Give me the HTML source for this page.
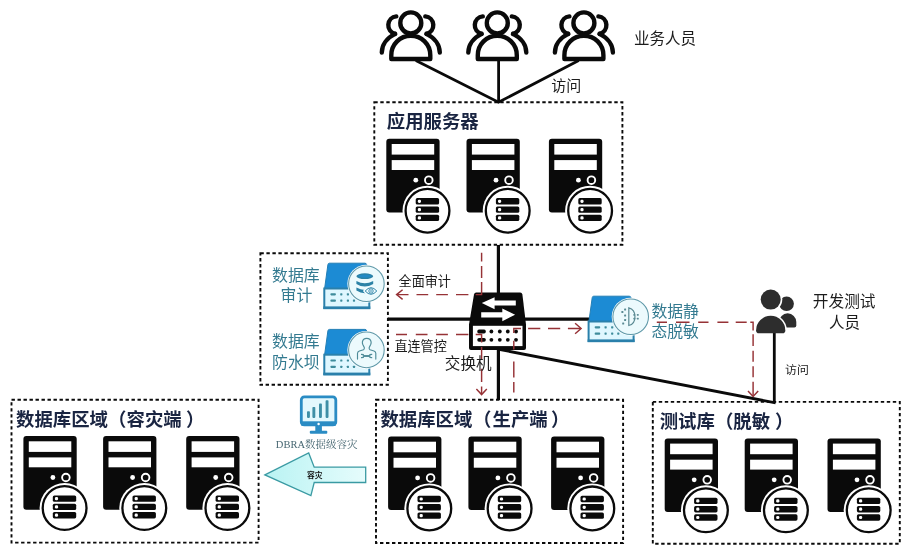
<!DOCTYPE html>
<html><head><meta charset="utf-8"><title>diagram</title>
<style>html,body{margin:0;padding:0;background:#fff;font-family:"Liberation Sans",sans-serif}svg{display:block;filter:blur(0.4px)}</style>
</head><body>
<svg width="906" height="547" viewBox="0 0 906 547"><rect width="906" height="547" fill="#fff"/>
<g stroke="#0a0a0a" stroke-width="2.8" fill="none">
<path d="M415.8 60.6 L498.5 102.3 L578.7 60.6"/>
<path d="M498.6 61 V102.4"/>
<path d="M498.4 245 V400" stroke-width="3.2"/>
<path d="M388 319.1 H590" stroke-width="3.2"/>
<path d="M499 349.4 L775.6 402.9"/>
<path d="M774.3 331 V402.3"/>
</g>
<rect x="374.3" y="102.2" width="248.09999999999997" height="142.60000000000002" fill="none" stroke="#0a0a0a" stroke-width="1.9" stroke-dasharray="3.4 2.6"/>
<rect x="260.4" y="253.2" width="127.5" height="131.60000000000002" fill="none" stroke="#0a0a0a" stroke-width="1.9" stroke-dasharray="3.4 2.6"/>
<rect x="11.5" y="399.8" width="247.10000000000002" height="142.8" fill="none" stroke="#0a0a0a" stroke-width="1.9" stroke-dasharray="3.4 2.6"/>
<rect x="376" y="399.8" width="247.10000000000002" height="143.2" fill="none" stroke="#0a0a0a" stroke-width="1.9" stroke-dasharray="3.4 2.6"/>
<rect x="652.8" y="401.9" width="247.0" height="141.80000000000007" fill="none" stroke="#0a0a0a" stroke-width="1.9" stroke-dasharray="3.4 2.6"/>
<text x="386.8" y="127.5" font-size="18.4" font-weight="bold" fill="#1a2542" font-family="&quot;Liberation Sans&quot;, &quot;Noto Sans CJK SC&quot;, sans-serif">应用服务器</text>
<text y="426" font-size="18.4" font-weight="bold" fill="#1a2542" font-family="&quot;Liberation Sans&quot;, &quot;Noto Sans CJK SC&quot;, sans-serif"><tspan x="16">数据库区域</tspan><tspan x="108">（</tspan><tspan x="126.5">容灾端</tspan><tspan x="186">）</tspan></text>
<text y="426" font-size="18.4" font-weight="bold" fill="#1a2542" font-family="&quot;Liberation Sans&quot;, &quot;Noto Sans CJK SC&quot;, sans-serif"><tspan x="380.4">数据库区域</tspan><tspan x="472.9">（</tspan><tspan x="492.5">生产端</tspan><tspan x="551">）</tspan></text>
<text y="428" font-size="18.4" font-weight="bold" fill="#1a2542" font-family="&quot;Liberation Sans&quot;, &quot;Noto Sans CJK SC&quot;, sans-serif"><tspan x="659.7">测试库</tspan><tspan x="714.9">（</tspan><tspan x="733.3">脱敏</tspan><tspan x="775">）</tspan></text>
<g transform="translate(386.3 138.8)"><rect x="0" y="0" width="53.3" height="73.6" rx="3" fill="#0a0a0a"/><rect x="5.4" y="5.2" width="42.5" height="10.6" fill="#fff"/><rect x="5.4" y="21.3" width="42.5" height="9.9" fill="#fff"/><circle cx="29.5" cy="41.4" r="2.4" fill="#fff"/><circle cx="42.5" cy="41.4" r="3.8" fill="none" stroke="#fff" stroke-width="1.9"/><circle cx="41.2" cy="71.9" r="25" fill="#fff"/><circle cx="41.2" cy="71.9" r="21.9" fill="#fff" stroke="#0a0a0a" stroke-width="2.3"/><rect x="29.400000000000002" y="59.30" width="23.4" height="6.4" rx="1.6" fill="#0a0a0a"/><rect x="31.50" y="60.90" width="3.2" height="3.2" rx="1.3" fill="#fff"/><rect x="29.400000000000002" y="67.60" width="23.4" height="6.4" rx="1.6" fill="#0a0a0a"/><rect x="31.50" y="69.20" width="3.2" height="3.2" rx="1.3" fill="#fff"/><rect x="29.400000000000002" y="75.90" width="23.4" height="6.4" rx="1.6" fill="#0a0a0a"/><rect x="31.50" y="77.50" width="3.2" height="3.2" rx="1.3" fill="#fff"/></g>
<g transform="translate(466.5 138.8)"><rect x="0" y="0" width="53.3" height="73.6" rx="3" fill="#0a0a0a"/><rect x="5.4" y="5.2" width="42.5" height="10.6" fill="#fff"/><rect x="5.4" y="21.3" width="42.5" height="9.9" fill="#fff"/><circle cx="29.5" cy="41.4" r="2.4" fill="#fff"/><circle cx="42.5" cy="41.4" r="3.8" fill="none" stroke="#fff" stroke-width="1.9"/><circle cx="41.2" cy="71.9" r="25" fill="#fff"/><circle cx="41.2" cy="71.9" r="21.9" fill="#fff" stroke="#0a0a0a" stroke-width="2.3"/><rect x="29.400000000000002" y="59.30" width="23.4" height="6.4" rx="1.6" fill="#0a0a0a"/><rect x="31.50" y="60.90" width="3.2" height="3.2" rx="1.3" fill="#fff"/><rect x="29.400000000000002" y="67.60" width="23.4" height="6.4" rx="1.6" fill="#0a0a0a"/><rect x="31.50" y="69.20" width="3.2" height="3.2" rx="1.3" fill="#fff"/><rect x="29.400000000000002" y="75.90" width="23.4" height="6.4" rx="1.6" fill="#0a0a0a"/><rect x="31.50" y="77.50" width="3.2" height="3.2" rx="1.3" fill="#fff"/></g>
<g transform="translate(548.9 138.8)"><rect x="0" y="0" width="53.3" height="73.6" rx="3" fill="#0a0a0a"/><rect x="5.4" y="5.2" width="42.5" height="10.6" fill="#fff"/><rect x="5.4" y="21.3" width="42.5" height="9.9" fill="#fff"/><circle cx="29.5" cy="41.4" r="2.4" fill="#fff"/><circle cx="42.5" cy="41.4" r="3.8" fill="none" stroke="#fff" stroke-width="1.9"/><circle cx="41.2" cy="71.9" r="25" fill="#fff"/><circle cx="41.2" cy="71.9" r="21.9" fill="#fff" stroke="#0a0a0a" stroke-width="2.3"/><rect x="29.400000000000002" y="59.30" width="23.4" height="6.4" rx="1.6" fill="#0a0a0a"/><rect x="31.50" y="60.90" width="3.2" height="3.2" rx="1.3" fill="#fff"/><rect x="29.400000000000002" y="67.60" width="23.4" height="6.4" rx="1.6" fill="#0a0a0a"/><rect x="31.50" y="69.20" width="3.2" height="3.2" rx="1.3" fill="#fff"/><rect x="29.400000000000002" y="75.90" width="23.4" height="6.4" rx="1.6" fill="#0a0a0a"/><rect x="31.50" y="77.50" width="3.2" height="3.2" rx="1.3" fill="#fff"/></g>
<g transform="translate(23.4 436.1)"><rect x="0" y="0" width="53.3" height="73.6" rx="3" fill="#0a0a0a"/><rect x="5.4" y="5.2" width="42.5" height="10.6" fill="#fff"/><rect x="5.4" y="21.3" width="42.5" height="9.9" fill="#fff"/><circle cx="29.5" cy="41.4" r="2.4" fill="#fff"/><circle cx="42.5" cy="41.4" r="3.8" fill="none" stroke="#fff" stroke-width="1.9"/><circle cx="41.2" cy="71.9" r="25" fill="#fff"/><circle cx="41.2" cy="71.9" r="21.9" fill="#fff" stroke="#0a0a0a" stroke-width="2.3"/><rect x="29.400000000000002" y="59.30" width="23.4" height="6.4" rx="1.6" fill="#0a0a0a"/><rect x="31.50" y="60.90" width="3.2" height="3.2" rx="1.3" fill="#fff"/><rect x="29.400000000000002" y="67.60" width="23.4" height="6.4" rx="1.6" fill="#0a0a0a"/><rect x="31.50" y="69.20" width="3.2" height="3.2" rx="1.3" fill="#fff"/><rect x="29.400000000000002" y="75.90" width="23.4" height="6.4" rx="1.6" fill="#0a0a0a"/><rect x="31.50" y="77.50" width="3.2" height="3.2" rx="1.3" fill="#fff"/></g>
<g transform="translate(103.1 436.1)"><rect x="0" y="0" width="53.3" height="73.6" rx="3" fill="#0a0a0a"/><rect x="5.4" y="5.2" width="42.5" height="10.6" fill="#fff"/><rect x="5.4" y="21.3" width="42.5" height="9.9" fill="#fff"/><circle cx="29.5" cy="41.4" r="2.4" fill="#fff"/><circle cx="42.5" cy="41.4" r="3.8" fill="none" stroke="#fff" stroke-width="1.9"/><circle cx="41.2" cy="71.9" r="25" fill="#fff"/><circle cx="41.2" cy="71.9" r="21.9" fill="#fff" stroke="#0a0a0a" stroke-width="2.3"/><rect x="29.400000000000002" y="59.30" width="23.4" height="6.4" rx="1.6" fill="#0a0a0a"/><rect x="31.50" y="60.90" width="3.2" height="3.2" rx="1.3" fill="#fff"/><rect x="29.400000000000002" y="67.60" width="23.4" height="6.4" rx="1.6" fill="#0a0a0a"/><rect x="31.50" y="69.20" width="3.2" height="3.2" rx="1.3" fill="#fff"/><rect x="29.400000000000002" y="75.90" width="23.4" height="6.4" rx="1.6" fill="#0a0a0a"/><rect x="31.50" y="77.50" width="3.2" height="3.2" rx="1.3" fill="#fff"/></g>
<g transform="translate(186.2 436.1)"><rect x="0" y="0" width="53.3" height="73.6" rx="3" fill="#0a0a0a"/><rect x="5.4" y="5.2" width="42.5" height="10.6" fill="#fff"/><rect x="5.4" y="21.3" width="42.5" height="9.9" fill="#fff"/><circle cx="29.5" cy="41.4" r="2.4" fill="#fff"/><circle cx="42.5" cy="41.4" r="3.8" fill="none" stroke="#fff" stroke-width="1.9"/><circle cx="41.2" cy="71.9" r="25" fill="#fff"/><circle cx="41.2" cy="71.9" r="21.9" fill="#fff" stroke="#0a0a0a" stroke-width="2.3"/><rect x="29.400000000000002" y="59.30" width="23.4" height="6.4" rx="1.6" fill="#0a0a0a"/><rect x="31.50" y="60.90" width="3.2" height="3.2" rx="1.3" fill="#fff"/><rect x="29.400000000000002" y="67.60" width="23.4" height="6.4" rx="1.6" fill="#0a0a0a"/><rect x="31.50" y="69.20" width="3.2" height="3.2" rx="1.3" fill="#fff"/><rect x="29.400000000000002" y="75.90" width="23.4" height="6.4" rx="1.6" fill="#0a0a0a"/><rect x="31.50" y="77.50" width="3.2" height="3.2" rx="1.3" fill="#fff"/></g>
<g transform="translate(388.1 436.5)"><rect x="0" y="0" width="53.3" height="73.6" rx="3" fill="#0a0a0a"/><rect x="5.4" y="5.2" width="42.5" height="10.6" fill="#fff"/><rect x="5.4" y="21.3" width="42.5" height="9.9" fill="#fff"/><circle cx="29.5" cy="41.4" r="2.4" fill="#fff"/><circle cx="42.5" cy="41.4" r="3.8" fill="none" stroke="#fff" stroke-width="1.9"/><circle cx="41.2" cy="71.9" r="25" fill="#fff"/><circle cx="41.2" cy="71.9" r="21.9" fill="#fff" stroke="#0a0a0a" stroke-width="2.3"/><rect x="29.400000000000002" y="59.30" width="23.4" height="6.4" rx="1.6" fill="#0a0a0a"/><rect x="31.50" y="60.90" width="3.2" height="3.2" rx="1.3" fill="#fff"/><rect x="29.400000000000002" y="67.60" width="23.4" height="6.4" rx="1.6" fill="#0a0a0a"/><rect x="31.50" y="69.20" width="3.2" height="3.2" rx="1.3" fill="#fff"/><rect x="29.400000000000002" y="75.90" width="23.4" height="6.4" rx="1.6" fill="#0a0a0a"/><rect x="31.50" y="77.50" width="3.2" height="3.2" rx="1.3" fill="#fff"/></g>
<g transform="translate(468.4 436.5)"><rect x="0" y="0" width="53.3" height="73.6" rx="3" fill="#0a0a0a"/><rect x="5.4" y="5.2" width="42.5" height="10.6" fill="#fff"/><rect x="5.4" y="21.3" width="42.5" height="9.9" fill="#fff"/><circle cx="29.5" cy="41.4" r="2.4" fill="#fff"/><circle cx="42.5" cy="41.4" r="3.8" fill="none" stroke="#fff" stroke-width="1.9"/><circle cx="41.2" cy="71.9" r="25" fill="#fff"/><circle cx="41.2" cy="71.9" r="21.9" fill="#fff" stroke="#0a0a0a" stroke-width="2.3"/><rect x="29.400000000000002" y="59.30" width="23.4" height="6.4" rx="1.6" fill="#0a0a0a"/><rect x="31.50" y="60.90" width="3.2" height="3.2" rx="1.3" fill="#fff"/><rect x="29.400000000000002" y="67.60" width="23.4" height="6.4" rx="1.6" fill="#0a0a0a"/><rect x="31.50" y="69.20" width="3.2" height="3.2" rx="1.3" fill="#fff"/><rect x="29.400000000000002" y="75.90" width="23.4" height="6.4" rx="1.6" fill="#0a0a0a"/><rect x="31.50" y="77.50" width="3.2" height="3.2" rx="1.3" fill="#fff"/></g>
<g transform="translate(551.1 436.5)"><rect x="0" y="0" width="53.3" height="73.6" rx="3" fill="#0a0a0a"/><rect x="5.4" y="5.2" width="42.5" height="10.6" fill="#fff"/><rect x="5.4" y="21.3" width="42.5" height="9.9" fill="#fff"/><circle cx="29.5" cy="41.4" r="2.4" fill="#fff"/><circle cx="42.5" cy="41.4" r="3.8" fill="none" stroke="#fff" stroke-width="1.9"/><circle cx="41.2" cy="71.9" r="25" fill="#fff"/><circle cx="41.2" cy="71.9" r="21.9" fill="#fff" stroke="#0a0a0a" stroke-width="2.3"/><rect x="29.400000000000002" y="59.30" width="23.4" height="6.4" rx="1.6" fill="#0a0a0a"/><rect x="31.50" y="60.90" width="3.2" height="3.2" rx="1.3" fill="#fff"/><rect x="29.400000000000002" y="67.60" width="23.4" height="6.4" rx="1.6" fill="#0a0a0a"/><rect x="31.50" y="69.20" width="3.2" height="3.2" rx="1.3" fill="#fff"/><rect x="29.400000000000002" y="75.90" width="23.4" height="6.4" rx="1.6" fill="#0a0a0a"/><rect x="31.50" y="77.50" width="3.2" height="3.2" rx="1.3" fill="#fff"/></g>
<g transform="translate(664.7 438.4)"><rect x="0" y="0" width="53.3" height="73.6" rx="3" fill="#0a0a0a"/><rect x="5.4" y="5.2" width="42.5" height="10.6" fill="#fff"/><rect x="5.4" y="21.3" width="42.5" height="9.9" fill="#fff"/><circle cx="29.5" cy="41.4" r="2.4" fill="#fff"/><circle cx="42.5" cy="41.4" r="3.8" fill="none" stroke="#fff" stroke-width="1.9"/><circle cx="41.2" cy="71.9" r="25" fill="#fff"/><circle cx="41.2" cy="71.9" r="21.9" fill="#fff" stroke="#0a0a0a" stroke-width="2.3"/><rect x="29.400000000000002" y="59.30" width="23.4" height="6.4" rx="1.6" fill="#0a0a0a"/><rect x="31.50" y="60.90" width="3.2" height="3.2" rx="1.3" fill="#fff"/><rect x="29.400000000000002" y="67.60" width="23.4" height="6.4" rx="1.6" fill="#0a0a0a"/><rect x="31.50" y="69.20" width="3.2" height="3.2" rx="1.3" fill="#fff"/><rect x="29.400000000000002" y="75.90" width="23.4" height="6.4" rx="1.6" fill="#0a0a0a"/><rect x="31.50" y="77.50" width="3.2" height="3.2" rx="1.3" fill="#fff"/></g>
<g transform="translate(744.7 438.4)"><rect x="0" y="0" width="53.3" height="73.6" rx="3" fill="#0a0a0a"/><rect x="5.4" y="5.2" width="42.5" height="10.6" fill="#fff"/><rect x="5.4" y="21.3" width="42.5" height="9.9" fill="#fff"/><circle cx="29.5" cy="41.4" r="2.4" fill="#fff"/><circle cx="42.5" cy="41.4" r="3.8" fill="none" stroke="#fff" stroke-width="1.9"/><circle cx="41.2" cy="71.9" r="25" fill="#fff"/><circle cx="41.2" cy="71.9" r="21.9" fill="#fff" stroke="#0a0a0a" stroke-width="2.3"/><rect x="29.400000000000002" y="59.30" width="23.4" height="6.4" rx="1.6" fill="#0a0a0a"/><rect x="31.50" y="60.90" width="3.2" height="3.2" rx="1.3" fill="#fff"/><rect x="29.400000000000002" y="67.60" width="23.4" height="6.4" rx="1.6" fill="#0a0a0a"/><rect x="31.50" y="69.20" width="3.2" height="3.2" rx="1.3" fill="#fff"/><rect x="29.400000000000002" y="75.90" width="23.4" height="6.4" rx="1.6" fill="#0a0a0a"/><rect x="31.50" y="77.50" width="3.2" height="3.2" rx="1.3" fill="#fff"/></g>
<g transform="translate(827.5 438.4)"><rect x="0" y="0" width="53.3" height="73.6" rx="3" fill="#0a0a0a"/><rect x="5.4" y="5.2" width="42.5" height="10.6" fill="#fff"/><rect x="5.4" y="21.3" width="42.5" height="9.9" fill="#fff"/><circle cx="29.5" cy="41.4" r="2.4" fill="#fff"/><circle cx="42.5" cy="41.4" r="3.8" fill="none" stroke="#fff" stroke-width="1.9"/><circle cx="41.2" cy="71.9" r="25" fill="#fff"/><circle cx="41.2" cy="71.9" r="21.9" fill="#fff" stroke="#0a0a0a" stroke-width="2.3"/><rect x="29.400000000000002" y="59.30" width="23.4" height="6.4" rx="1.6" fill="#0a0a0a"/><rect x="31.50" y="60.90" width="3.2" height="3.2" rx="1.3" fill="#fff"/><rect x="29.400000000000002" y="67.60" width="23.4" height="6.4" rx="1.6" fill="#0a0a0a"/><rect x="31.50" y="69.20" width="3.2" height="3.2" rx="1.3" fill="#fff"/><rect x="29.400000000000002" y="75.90" width="23.4" height="6.4" rx="1.6" fill="#0a0a0a"/><rect x="31.50" y="77.50" width="3.2" height="3.2" rx="1.3" fill="#fff"/></g>
<g transform="translate(410.8 0)" fill="none" stroke="#0a0a0a" stroke-width="4.4" stroke-linecap="round" stroke-linejoin="round"><circle cx="0" cy="22.9" r="10.5"/><path d="M-19.5 59 V55.2 A19.5 19.5 0 0 1 19.5 55.2 V59 Z"/><path d="M-14.5 16.4 A8.9 8.9 0 0 0 -15.7 33.9"/><path d="M14.5 16.4 A8.9 8.9 0 0 1 15.7 33.9"/><path d="M-15.7 33.9 C-24 38 -29 45 -29 52.5"/><path d="M15.7 33.9 C24 38 29 45 29 52.5"/></g>
<g transform="translate(497.3 0)" fill="none" stroke="#0a0a0a" stroke-width="4.4" stroke-linecap="round" stroke-linejoin="round"><circle cx="0" cy="22.9" r="10.5"/><path d="M-19.5 59 V55.2 A19.5 19.5 0 0 1 19.5 55.2 V59 Z"/><path d="M-14.5 16.4 A8.9 8.9 0 0 0 -15.7 33.9"/><path d="M14.5 16.4 A8.9 8.9 0 0 1 15.7 33.9"/><path d="M-15.7 33.9 C-24 38 -29 45 -29 52.5"/><path d="M15.7 33.9 C24 38 29 45 29 52.5"/></g>
<g transform="translate(583.9 0)" fill="none" stroke="#0a0a0a" stroke-width="4.4" stroke-linecap="round" stroke-linejoin="round"><circle cx="0" cy="22.9" r="10.5"/><path d="M-19.5 59 V55.2 A19.5 19.5 0 0 1 19.5 55.2 V59 Z"/><path d="M-14.5 16.4 A8.9 8.9 0 0 0 -15.7 33.9"/><path d="M14.5 16.4 A8.9 8.9 0 0 1 15.7 33.9"/><path d="M-15.7 33.9 C-24 38 -29 45 -29 52.5"/><path d="M15.7 33.9 C24 38 29 45 29 52.5"/></g>
<text x="634" y="44.3" font-size="15.5" fill="#1c1c1c" font-family="&quot;Liberation Sans&quot;, &quot;Noto Sans CJK SC&quot;, sans-serif">业务人员</text>
<text x="551.2" y="90.6" font-size="15" fill="#1c1c1c" font-family="&quot;Liberation Sans&quot;, &quot;Noto Sans CJK SC&quot;, sans-serif">访问</text>
<g transform="translate(327.9 263.2)"><path d="M1.5 0 H37 Q38.5 0 38.8 1.5 L41.4 25.5 H-3.3 L0 1.5 Q0.2 0 1.5 0 Z" fill="#1c8bd4" stroke="#237fb6" stroke-width="1"/><rect x="-3.6" y="25.3" width="45" height="19.6" fill="#dff7ff" stroke="#2a80ab" stroke-width="2"/><rect x="-4.6" y="43.2" width="47" height="2.7" fill="#2a80ab"/><rect x="2.5" y="30.0" width="5.5" height="2.2" rx="0.8" fill="#3f8c9c"/><rect x="12.3" y="30.0" width="2.2" height="2.2" rx="0.6" fill="#3f8c9c"/><rect x="18.9" y="30.0" width="2.2" height="2.2" rx="0.6" fill="#3f8c9c"/><rect x="25.0" y="30.0" width="2.2" height="2.2" rx="0.6" fill="#3f8c9c"/><rect x="2.5" y="36.3" width="5.5" height="2.2" rx="0.8" fill="#3f8c9c"/><rect x="12.3" y="36.3" width="2.2" height="2.2" rx="0.6" fill="#3f8c9c"/><rect x="18.9" y="36.3" width="2.2" height="2.2" rx="0.6" fill="#3f8c9c"/><rect x="25.0" y="36.3" width="2.2" height="2.2" rx="0.6" fill="#3f8c9c"/><circle cx="38.5" cy="20.5" r="19" fill="#fff"/><circle cx="38.5" cy="20.5" r="17.8" fill="#ecfafd" stroke="#5e98a8" stroke-width="1.05"/></g>
<g transform="translate(327.9 329.4)"><path d="M1.5 0 H37 Q38.5 0 38.8 1.5 L41.4 25.5 H-3.3 L0 1.5 Q0.2 0 1.5 0 Z" fill="#1c8bd4" stroke="#237fb6" stroke-width="1"/><rect x="-3.6" y="25.3" width="45" height="19.6" fill="#dff7ff" stroke="#2a80ab" stroke-width="2"/><rect x="-4.6" y="43.2" width="47" height="2.7" fill="#2a80ab"/><rect x="2.5" y="30.0" width="5.5" height="2.2" rx="0.8" fill="#3f8c9c"/><rect x="12.3" y="30.0" width="2.2" height="2.2" rx="0.6" fill="#3f8c9c"/><rect x="18.9" y="30.0" width="2.2" height="2.2" rx="0.6" fill="#3f8c9c"/><rect x="25.0" y="30.0" width="2.2" height="2.2" rx="0.6" fill="#3f8c9c"/><rect x="2.5" y="36.3" width="5.5" height="2.2" rx="0.8" fill="#3f8c9c"/><rect x="12.3" y="36.3" width="2.2" height="2.2" rx="0.6" fill="#3f8c9c"/><rect x="18.9" y="36.3" width="2.2" height="2.2" rx="0.6" fill="#3f8c9c"/><rect x="25.0" y="36.3" width="2.2" height="2.2" rx="0.6" fill="#3f8c9c"/><circle cx="38.5" cy="20.5" r="19" fill="#fff"/><circle cx="38.5" cy="20.5" r="17.8" fill="#ecfafd" stroke="#5e98a8" stroke-width="1.05"/></g>
<g transform="translate(592.2 296.2)"><path d="M1.5 0 H37 Q38.5 0 38.8 1.5 L41.4 25.5 H-3.3 L0 1.5 Q0.2 0 1.5 0 Z" fill="#1c8bd4" stroke="#237fb6" stroke-width="1"/><rect x="-3.6" y="25.3" width="45" height="19.6" fill="#dff7ff" stroke="#2a80ab" stroke-width="2"/><rect x="-4.6" y="43.2" width="47" height="2.7" fill="#2a80ab"/><rect x="2.5" y="30.0" width="5.5" height="2.2" rx="0.8" fill="#3f8c9c"/><rect x="12.3" y="30.0" width="2.2" height="2.2" rx="0.6" fill="#3f8c9c"/><rect x="18.9" y="30.0" width="2.2" height="2.2" rx="0.6" fill="#3f8c9c"/><rect x="25.0" y="30.0" width="2.2" height="2.2" rx="0.6" fill="#3f8c9c"/><rect x="2.5" y="36.3" width="5.5" height="2.2" rx="0.8" fill="#3f8c9c"/><rect x="12.3" y="36.3" width="2.2" height="2.2" rx="0.6" fill="#3f8c9c"/><rect x="18.9" y="36.3" width="2.2" height="2.2" rx="0.6" fill="#3f8c9c"/><rect x="25.0" y="36.3" width="2.2" height="2.2" rx="0.6" fill="#3f8c9c"/><circle cx="38.5" cy="20.5" r="19" fill="#fff"/><circle cx="38.5" cy="20.5" r="17.8" fill="#ecfafd" stroke="#5e98a8" stroke-width="1.05"/></g>
<g><ellipse cx="364.8" cy="276.2" rx="8.4" ry="2.9" fill="#2c82a6"/><ellipse cx="364.8" cy="276.1" rx="6.3" ry="1.7" fill="#2289c4"/><path d="M356.4 280.9 Q364.8 285.6 373.2 280.9 V283.9 Q364.8 289.2 356.4 283.9 Z" fill="#2c82a6"/><path d="M356.4 287.6 Q364.8 292.3 373.2 287.6 V290.6 Q364.8 295.9 356.4 290.6 Z" fill="#2c82a6"/><path d="M364.4 291 Q371 283 377.6 291 Q371 299 364.4 291 Z" fill="#f2fcfe" stroke="#f2fcfe" stroke-width="2.2"/><path d="M365.2 291 Q371 284.4 376.8 291 Q371 297.6 365.2 291 Z" fill="#f2fcfe" stroke="#2c82a6" stroke-width="1"/><circle cx="371" cy="291" r="2.2" fill="#e6f7fc" stroke="#2c82a6" stroke-width="0.9"/><circle cx="371" cy="291" r="0.8" fill="#2c82a6"/></g>
<g fill="none" stroke="#4f8c99" stroke-width="1.15" stroke-linecap="round" stroke-linejoin="round"><path d="M357.5 359.1 V353.2 Q357.6 351.6 359.4 351 L363.5 349.7 Q364.6 349 364.3 347.6 L362.8 344.5 Q362.2 343 362.4 341.8 Q363 338.4 366.7 338.4 Q370.5 338.4 371.1 341.8 Q371.3 343 370.7 344.5 L369.2 347.6 Q368.9 349 370 349.7 L374 351 Q375.7 351.6 375.8 353.2 V359.1"/></g><g fill="none" stroke="#4f8c99" stroke-linecap="butt"><path d="M363.3 356 H369.9" stroke-width="1.9"/><path d="M361 354.4 L363.3 354.6 V357.4 L361 357.6 M372.2 354.4 L369.9 354.6 V357.4 L372.2 357.6" stroke-width="1.1"/></g>
<g fill="#5a8a93"><path d="M628.8 307.8 V325.5 C637 323.5 637 309.8 628.8 307.8 Z" fill="none" stroke="#5a8a93" stroke-width="1.2"/><rect x="624.1" y="308.4" width="2" height="2" rx="0.5"/><rect x="621.4" y="311" width="2" height="2" rx="0.5"/><rect x="624.1" y="314.5" width="2" height="2" rx="0.5"/><rect x="624.1" y="319.1" width="2" height="2" rx="0.5"/><rect x="622.2" y="322.6" width="2" height="2" rx="0.5"/><rect x="633.4" y="314.0" width="1.8" height="1.8" rx="0.4"/><rect x="636.9" y="314.0" width="1.8" height="1.8" rx="0.4"/><rect x="633.4" y="317.8" width="1.8" height="1.8" rx="0.4"/><rect x="636.9" y="317.8" width="1.8" height="1.8" rx="0.4"/></g>
<text x="272" y="280.8" font-size="15.9" fill="#337a90" font-family="&quot;Liberation Sans&quot;, &quot;Noto Sans CJK SC&quot;, sans-serif">数据库</text>
<text x="280.5" y="301.3" font-size="15.9" fill="#337a90" font-family="&quot;Liberation Sans&quot;, &quot;Noto Sans CJK SC&quot;, sans-serif">审计</text>
<text x="272" y="346.8" font-size="15.9" fill="#337a90" font-family="&quot;Liberation Sans&quot;, &quot;Noto Sans CJK SC&quot;, sans-serif">数据库</text>
<text x="272" y="367.8" font-size="15.9" fill="#337a90" font-family="&quot;Liberation Sans&quot;, &quot;Noto Sans CJK SC&quot;, sans-serif">防水坝</text>
<path d="M656.8 322.2H667M676 322.2H689.5M698.2 322.2H708.5M717.4 322.2H728.4M735.7 322.2H746.7M750.3 322.2H753.8M753.1 322.2V330.6M753.1 334.3V346.1M753.1 350.7V361.7M753.1 366.2V377.2M753.1 381.8V395.5" stroke="#963236" stroke-width="1.45" fill="none"/>
<text x="651.5" y="317.4" font-size="15.8" fill="#337a90" font-family="&quot;Liberation Sans&quot;, &quot;Noto Sans CJK SC&quot;, sans-serif">数据静</text>
<text x="651.5" y="336.5" font-size="15.8" fill="#337a90" font-family="&quot;Liberation Sans&quot;, &quot;Noto Sans CJK SC&quot;, sans-serif">态脱敏</text>
<g><path d="M476.2 292.6 H520.2 Q522 292.6 522.4 294.4 L526 324.4 V347.9 Q526 349.9 524 349.9 H471 Q469 349.9 469 347.9 V324.4 L474 294.4 Q474.4 292.6 476.2 292.6 Z" fill="#0a0a0a"/><rect x="472.9" y="325.8" width="49.6" height="20.3" fill="#fff"/><path d="M481.8 303 L494.6 297.2 V300.5 H515.8 V305.6 H494.6 V309.3 Z" fill="#fff"/><path d="M515.1 314.8 L502.3 308.4 V312.2 H481.2 V317.4 H502.3 V321.2 Z" fill="#fff"/><rect x="477.3" y="329.6" width="8.5" height="3.8" rx="1.7" fill="#0a0a0a"/><circle cx="491.4" cy="331.5" r="1.9" fill="#0a0a0a"/><circle cx="499.8" cy="331.5" r="1.9" fill="#0a0a0a"/><circle cx="507.8" cy="331.5" r="1.9" fill="#0a0a0a"/><circle cx="516" cy="331.5" r="1.9" fill="#0a0a0a"/><rect x="477.3" y="337.90000000000003" width="8.5" height="3.8" rx="1.7" fill="#0a0a0a"/><circle cx="491.4" cy="339.8" r="1.9" fill="#0a0a0a"/><circle cx="499.8" cy="339.8" r="1.9" fill="#0a0a0a"/><circle cx="507.8" cy="339.8" r="1.9" fill="#0a0a0a"/><circle cx="516" cy="339.8" r="1.9" fill="#0a0a0a"/></g>
<path d="M481.6 252.7V261.5M481.6 265.9V278.1M481.6 281.9V294.6M396.8 294.6H408.5M416.5 294.6H428.2M436.2 294.6H447.9M456 294.6H468.4M475.7 294.6H482.3M396 334.5H407M415.8 334.5H427.5M436.2 334.5H447.9M456 334.5H468.4M475.7 334.5H482.3M481.6 334.5V342.5M481.6 347V359.3M481.6 368.7V381.9M481.6 386.4V394M513.8 328.5V333.1M513.8 340.8V349.4M513.8 361.5V377.5M513.8 381.9V392.4M513.1 328.5H521M528.1 328.5H540.3M548 328.5H560.2M567.9 328.5H580.5" stroke="#963236" stroke-width="1.45" fill="none"/>
<g stroke="#963236" stroke-width="1.45" fill="none">
<path d="M402.6 289.8 L396.6 294.6 L402.6 299.4"/>
<path d="M476.4 389.1 L481.6 394.6 L486.8 389.1"/>
<path d="M575.1 323.3 L581.1 328.5 L575.1 333.7"/>
<path d="M748 390.9 L753.1 396.4 L758.2 390.9"/>
</g>
<text x="398.6" y="286" font-size="13.1" fill="#1c1c1c" font-family="&quot;Liberation Sans&quot;, &quot;Noto Sans CJK SC&quot;, sans-serif">全面审计</text>
<text x="394.4" y="351" font-size="13.1" fill="#1c1c1c" font-family="&quot;Liberation Sans&quot;, &quot;Noto Sans CJK SC&quot;, sans-serif">直连管控</text>
<text x="444.8" y="368.7" font-size="15.6" fill="#1c1c1c" font-family="&quot;Liberation Sans&quot;, &quot;Noto Sans CJK SC&quot;, sans-serif">交换机</text>
<g fill="#2d2d2d"><circle cx="786.6" cy="303.8" r="7.3"/><path d="M779 327.5 V322 A8.5 8.5 0 0 1 796.3 322 V325.5 Q796.3 327.5 794.3 327.5 Z"/></g><circle cx="770.7" cy="299.6" r="11.6" fill="#fff"/><path d="M754.5 332 V330.4 A16.2 16.2 0 0 1 786.9 330.4 V332 Z" fill="#fff"/><g fill="#2d2d2d"><circle cx="770.7" cy="299.6" r="10"/><path d="M756.1 330.4 A14.6 14.6 0 0 1 785.3 330.4 Q785.3 333.2 782.5 333.2 H758.9 Q756.1 333.2 756.1 330.4 Z"/></g>
<text x="812.8" y="306.6" font-size="15.7" fill="#1c1c1c" font-family="&quot;Liberation Sans&quot;, &quot;Noto Sans CJK SC&quot;, sans-serif">开发测试</text>
<text x="829" y="328" font-size="15.5" fill="#1c1c1c" font-family="&quot;Liberation Sans&quot;, &quot;Noto Sans CJK SC&quot;, sans-serif">人员</text>
<text x="785" y="373.8" font-size="11.9" fill="#1c1c1c" font-family="&quot;Liberation Sans&quot;, &quot;Noto Sans CJK SC&quot;, sans-serif">访问</text>
<g><rect x="301.3" y="396.9" width="34.5" height="28" rx="3" fill="#e3f8fd" stroke="#2a8cc4" stroke-width="2.8"/><rect x="301.3" y="421.3" width="34.5" height="4.5" fill="#2a8cc4"/><circle cx="318.6" cy="424" r="1.2" fill="#fff"/><rect x="315.3" y="426" width="6.6" height="5.2" fill="#2a8cc4"/><rect x="309.8" y="430.8" width="17.5" height="2.9" rx="1" fill="#2a8cc4"/><rect x="307" y="411.3" width="2.9" height="6.6" rx="0.8" fill="#3f8fa6"/><rect x="312.4" y="406.9" width="2.9" height="11.0" rx="0.8" fill="#3f8fa6"/><rect x="319" y="403.6" width="2.9" height="14.3" rx="0.8" fill="#3f8fa6"/><rect x="325.6" y="400.3" width="2.9" height="17.6" rx="0.8" fill="#3f8fa6"/></g>
<text x="275.8" y="447.6" font-size="10.5" fill="#476772" font-family="&quot;Liberation Serif&quot;, &quot;Noto Serif CJK SC&quot;, serif">DBRA数据级容灾</text>
<defs><linearGradient id="ag" x1="0" y1="0" x2="1" y2="0"><stop offset="0" stop-color="#b9f3f3"/><stop offset="1" stop-color="#e6fcfc"/></linearGradient></defs>
<path d="M264.9 474.9 L308.7 453 L314.2 467.2 H365.7 V482.5 H314.2 L310.9 495.7 Z" fill="url(#ag)" stroke="#3a9aa3" stroke-width="1.3" stroke-linejoin="miter"/>
<text x="306.9" y="478.3" font-size="7.8" font-weight="bold" fill="#111" font-family="&quot;Liberation Sans&quot;, &quot;Noto Sans CJK SC&quot;, sans-serif">容灾</text></svg>
</body></html>
